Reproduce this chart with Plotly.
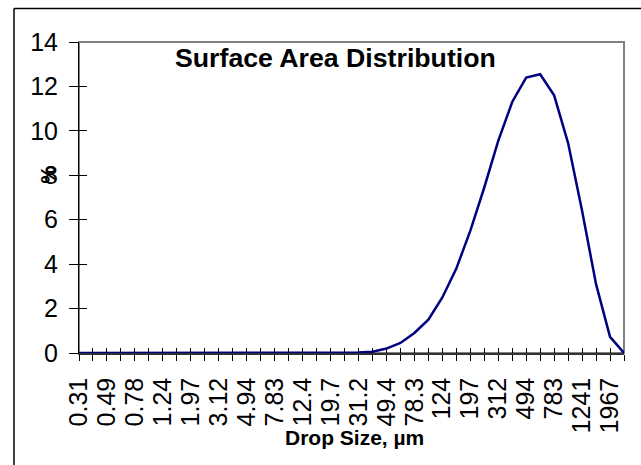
import plotly.graph_objects as go

# Drop size categories (µm), geometric classes
sizes = ["0.31", "0.39", "0.49", "0.62", "0.78", "0.98", "1.24", "1.56", "1.97", "2.48",
         "3.12", "3.93", "4.94", "6.22", "7.83", "9.86", "12.4", "15.6", "19.7", "24.8",
         "31.2", "39.3", "49.4", "62.2", "78.3", "98.6", "124", "156", "197", "248",
         "312", "393", "494", "622", "783", "986", "1241", "1563", "1967", "2478"]

# Surface area distribution (%)
surface_pct = [0, 0, 0, 0, 0, 0, 0, 0, 0, 0,
               0, 0, 0, 0, 0, 0, 0, 0, 0, 0.01,
               0.02, 0.06, 0.2, 0.45, 0.9, 1.5, 2.5, 3.8, 5.5, 7.45,
               9.55, 11.3, 12.4, 12.55, 11.6, 9.45, 6.4, 3.1, 0.73, 0]

title_text = "Surface Area Distribution"
x_title = "Drop Size, µm"
y_title = "%"

idx = list(range(len(sizes)))
label_pos = idx[::2]
label_txt = sizes[::2]

FONT = "Liberation Sans, Arial, sans-serif"

fig = go.Figure()
fig.add_trace(go.Scatter(x=idx, y=surface_pct, mode="lines",
                         line=dict(color="#000080", width=2.5),
                         hoverinfo="skip", showlegend=False))
# helper trace for the inner half of the crossing tick marks
fig.add_trace(go.Scatter(x=idx, y=surface_pct, mode="lines", xaxis="x2", yaxis="y2",
                         line=dict(color="rgba(0,0,0,0)", width=0),
                         hoverinfo="skip", showlegend=False))

n = len(sizes) - 1
fig.update_layout(
    width=641, height=465,
    margin=dict(l=79, r=17, t=42, b=112),
    paper_bgcolor="white", plot_bgcolor="white",
    font=dict(family=FONT, color="black"),
    showlegend=False,
    xaxis=dict(range=[0, n], tickmode="array", tickvals=label_pos, ticktext=label_txt,
               tickangle=-90, ticks="outside", ticklen=6, tickcolor="black", tickwidth=1,
               minor=dict(ticks="outside", ticklen=6, dtick=1, tick0=0, tickcolor="black", tickwidth=1),
               showline=True, linecolor="#303030", linewidth=1.5,
               showgrid=False, zeroline=False, tickfont=dict(size=25, family=FONT),
               ticklabelstandoff=7),
    xaxis2=dict(range=[0, n], overlaying="x", anchor="y", side="bottom",
                tickmode="linear", tick0=0, dtick=1, ticks="inside", ticklen=5,
                tickcolor="black", tickwidth=1, showticklabels=False,
                showline=False, showgrid=False, zeroline=False),
    yaxis=dict(range=[0, 14], tickmode="linear", tick0=0, dtick=2,
               ticks="outside", ticklen=9, tickcolor="black", tickwidth=1,
               showline=True, linecolor="black", linewidth=1,
               showgrid=False, zeroline=False, tickfont=dict(size=25, family=FONT),
               ticklabelstandoff=6),
    yaxis2=dict(range=[0, 14], overlaying="y", anchor="x", side="left",
                tickmode="linear", tick0=0, dtick=2, ticks="inside", ticklen=8,
                tickcolor="black", tickwidth=1, showticklabels=False,
                showline=False, showgrid=False, zeroline=False),
    annotations=[
        dict(text="<b>" + title_text + "</b>", xref="paper", yref="paper",
             x=0.47, y=0.949, xanchor="center", yanchor="middle", showarrow=False,
             font=dict(size=26.7, family=FONT, color="black")),
        dict(text="<b>" + x_title + "</b>", xref="paper", yref="paper",
             x=0.505, y=-0.273, xanchor="center", yanchor="middle", showarrow=False,
             font=dict(size=21, family=FONT, color="black")),
        dict(text="<b>" + y_title + "</b>", xref="paper", yref="paper",
             x=-0.056, y=0.5756, xanchor="center", yanchor="middle", showarrow=False,
             textangle=-90, font=dict(size=20, family=FONT, color="black")),
    ],
    shapes=[
        # plot area frame
        dict(type="rect", xref="paper", yref="paper", x0=0, y0=0, x1=1, y1=1,
             line=dict(color="#808080", width=2), layer="below"),
        # outer chart border (left and top, partially visible)
        dict(type="line", xref="paper", yref="paper", x0=-0.1193, x1=-0.1193, y0=-0.4, y1=1.108,
             line=dict(color="#404040", width=2)),
        dict(type="line", xref="paper", yref="paper", x0=-0.1193, x1=1.05, y0=1.108, y1=1.108,
             line=dict(color="black", width=1.5)),
    ],
)

fig.write_html("out.html", config={"displayModeBar": False},
               post_script="document.body.style.margin='0';document.body.style.overflow='hidden';")
